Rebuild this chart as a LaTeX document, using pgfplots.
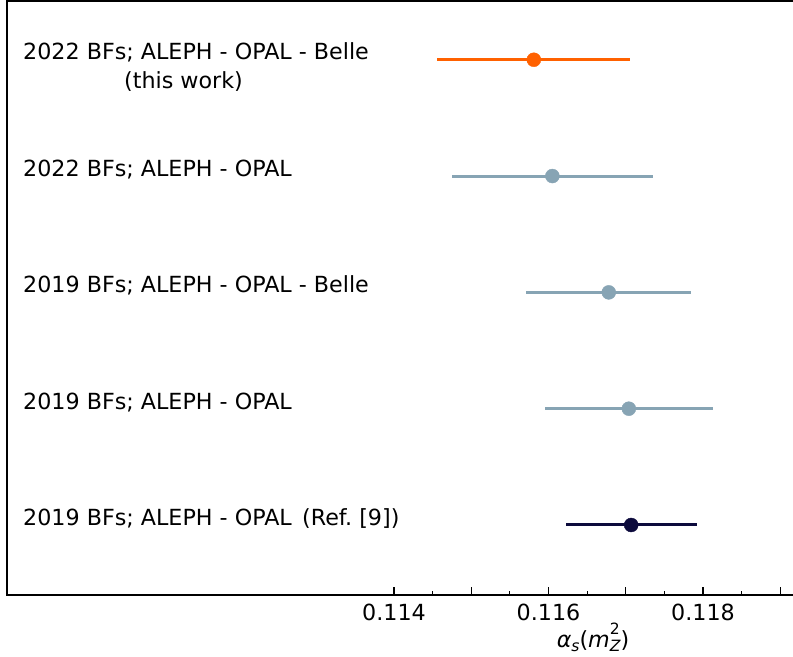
\documentclass[border=0pt]{standalone}
\usepackage{pgfplots}
\pgfplotsset{compat=1.18}
\usepackage{fontspec}
\setmainfont{DejaVu Sans}

\definecolor{thiswork}{HTML}{FF6100}
\definecolor{otherfit}{HTML}{87A4B4}
\definecolor{refnine}{HTML}{0C0A3C}

\newcommand{\labelfont}{\fontsize{22.3pt}{26pt}\selectfont}
\newcommand{\smallidx}{\fontsize{15.6pt}{18pt}\selectfont}

\begin{document}
\labelfont\frenchspacing
\begin{tikzpicture}[x=1bp,y=-1bp]
\path[use as bounding box] (0,0) rectangle (793,657);
\clip (0,0) rectangle (793,657);
\begin{axis}[
  at={(7bp,-595bp)}, anchor=south west,
  scale only axis,
  width=788.7bp, height=594bp,
  xmin=0.10899, xmax=0.1192,
  ymin=0.398, ymax=5.505,
  axis line style={line width=1.4bp},
  ytick=\empty,
  xtick={0.114,0.115,0.116,0.117,0.118,0.119},
  xticklabels={0.114,,0.116,,0.118,},
  minor xtick={0.1145,0.1155,0.1165,0.1175,0.1185},
  xtick pos=bottom,
  tick align=inside,
  major tick length=8bp,
  minor tick length=4bp,
  tick style={black, line width=1.2bp},
  xticklabel style={font=\labelfont, yshift=-1bp},
  clip=false,
  error bars/x dir=both,
  error bars/x explicit,
  error bars/error mark=none,
]
% 2022 BFs; ALEPH - OPAL - Belle (this work)
\addplot[thiswork, only marks, mark=*, mark size=7bp,
  mark options={draw=none, fill=thiswork},
  error bars/error bar style={line width=3bp, thiswork}]
  coordinates {(0.11581,5) +- (0.00125,0)};
% 2022 BFs; ALEPH - OPAL
\addplot[otherfit, only marks, mark=*, mark size=7bp,
  mark options={draw=none, fill=otherfit},
  error bars/error bar style={line width=3bp, otherfit}]
  coordinates {(0.11605,4) +- (0.00130,0)};
% 2019 BFs; ALEPH - OPAL - Belle
\addplot[otherfit, only marks, mark=*, mark size=7bp,
  mark options={draw=none, fill=otherfit},
  error bars/error bar style={line width=3bp, otherfit}]
  coordinates {(0.11678,3) +- (0.00107,0)};
% 2019 BFs; ALEPH - OPAL
\addplot[otherfit, only marks, mark=*, mark size=7bp,
  mark options={draw=none, fill=otherfit},
  error bars/error bar style={line width=3bp, otherfit}]
  coordinates {(0.11704,2) +- (0.00109,0)};
% 2019 BFs; ALEPH - OPAL (Ref. [9])
\addplot[refnine, only marks, mark=*, mark size=7bp,
  mark options={draw=none, fill=refnine},
  error bars/error bar style={line width=3bp, refnine}]
  coordinates {(0.11707,1) +- (0.00085,0)};
\end{axis}
% row labels
\node[anchor=base west, inner sep=0pt] at (23,60) {2022 BFs; ALEPH - OPAL - Belle};
\node[anchor=base west, inner sep=0pt] at (124,89) {(this work)};
\node[anchor=base west, inner sep=0pt] at (23,176) {2022 BFs; ALEPH - OPAL};
\node[anchor=base west, inner sep=0pt] at (23,292) {2019 BFs; ALEPH - OPAL - Belle};
\node[anchor=base west, inner sep=0pt] at (23,409) {2019 BFs; ALEPH - OPAL};
\node[anchor=base west, inner sep=0pt] at (23,525) {2019 BFs; ALEPH - OPAL};
\node[anchor=base west, inner sep=0pt] at (302,525) {(Ref.\ [9])};
% axis title
\node[anchor=base, inner sep=0pt] at (593,647)
  {\textit{α}\raisebox{-0.2em}{\smallidx\itshape s}(\textit{m}\rlap{\raisebox{0.55em}{\smallidx 2}}\raisebox{-0.22em}{\smallidx\itshape Z})};
\end{tikzpicture}
\end{document}
